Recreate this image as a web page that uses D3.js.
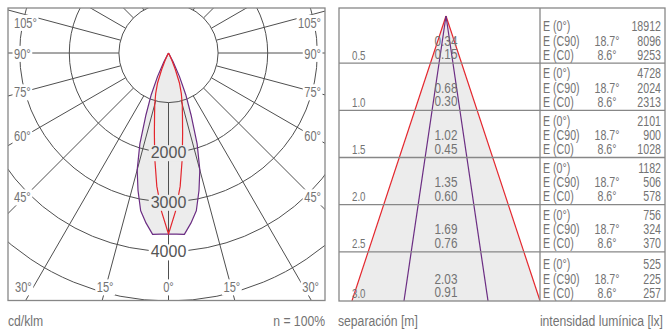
<!DOCTYPE html>
<html>
<head>
<meta charset="utf-8">
<script src="https://cdn.jsdelivr.net/npm/d3@7/dist/d3.min.js"></script>
<style>
  body { margin: 0; background: #fff; }
  text { font-family: "Liberation Sans", Arial, sans-serif; fill: #737373; }
</style>
</head>
<body>
<svg id="chart" width="666" height="329"></svg>
<script>
// ---------------------------------------------------------------------------
// Datos
// ---------------------------------------------------------------------------
const gridIntensities = [1000, 2000, 3000, 4000, 5000];
const gridLabelValues = [2000, 3000, 4000];
const angleTicks = [0, 15, 30, 45, 60, 75, 90, 105];

// curva polar (cd/klm) - angulo desde el nadir, simetrica
const curveAngles = [0, 2.5, 5, 7.5, 10, 12.5, 15, 17.5, 20, 22.5, 25, 27.5, 30];
const curveC90 = [3650, 3655, 3670, 3460, 3230, 2840, 2440, 1920, 1330, 910, 520, 200, 0];
const curveC0 = [3650, 3200, 2700, 2130, 1640, 1300, 1070, 860, 650, 360, 160, 40, 0];

// tabla de iluminancias
const depths = [0.5, 1.0, 1.5, 2.0, 2.5, 3.0];
const diamC90 = [0.34, 0.68, 1.02, 1.35, 1.69, 2.03];
const diamC0 = [0.15, 0.30, 0.45, 0.60, 0.76, 0.91];
const luxE0 = [18912, 4728, 2101, 1182, 756, 525];
const luxC90 = [8096, 2024, 900, 506, 324, 225];
const luxC0 = [9253, 2313, 1028, 578, 370, 257];
const halfAngleC90 = 18.7;
const halfAngleC0 = 8.6;

// ---------------------------------------------------------------------------
// Estilos
// ---------------------------------------------------------------------------
const GRID = '#4f4f4f';
const FRAME = '#878787';
const FILL = '#ececec';
const RED = '#e4262d';
const PURPLE = '#6b2d83';

const svg = d3.select('#chart');
const defs = svg.append('defs');
const rad = d => d * Math.PI / 180;

// texto estrechado horizontalmente (no hay fuente condensada instalada)
function narrowText(parent, x, y, txt, size, squeeze, anchor, bg) {
    const g = parent.append('g')
        .attr('transform', `translate(${x},${y}) scale(${squeeze},1)`);
    const rect = bg ? g.append('rect').attr('fill', bg) : null;
    const t = g.append('text')
        .attr('text-anchor', anchor || 'start')
        .style('font-size', size + 'px')
        .text(txt);
    if (rect) {
        const b = t.node().getBBox();
        rect.attr('x', b.x - 2).attr('y', b.y + 1)
            .attr('width', b.width + 4).attr('height', b.height - 1);
    }
    return t;
}

// ===========================================================================
// Diagrama polar
// ===========================================================================
const polar = { left: 8, top: 8, right: 325, bottom: 300.5 };
const cx = 168.5, cy = 53;
const r = d3.scaleLinear().domain([0, 5000]).range([0, 248]);
const polarXY = (deg, val) => [cx + r(val) * Math.sin(rad(deg)), cy + r(val) * Math.cos(rad(deg))];

defs.append('clipPath').attr('id', 'clip-polar')
    .append('rect')
    .attr('x', polar.left).attr('y', polar.top)
    .attr('width', polar.right - polar.left)
    .attr('height', polar.bottom - polar.top);

const gp = svg.append('g').attr('clip-path', 'url(#clip-polar)');

function curvePoints(values) {
    const right = curveAngles.map((a, i) => [a, values[i]]);
    const left = curveAngles.map((a, i) => [-a, values[i]]);
    return right.slice().reverse().concat(left.slice(1));
}

const polarLine = d3.line()
    .x(d => polarXY(d[0], d[1])[0])
    .y(d => polarXY(d[0], d[1])[1]);

// relleno
gp.append('path')
    .datum(curvePoints(curveC90))
    .attr('d', polarLine)
    .attr('fill', FILL);

// circulos
gp.selectAll('.grid-circle')
    .data(gridIntensities)
    .join('circle')
    .attr('class', 'grid-circle')
    .attr('cx', cx).attr('cy', cy)
    .attr('r', d => r(d))
    .attr('fill', 'none')
    .attr('stroke', GRID)
    .attr('stroke-width', 1);

// radios cada 15 grados
gp.selectAll('.grid-ray')
    .data(d3.range(-165, 166, 15))
    .join('line')
    .attr('class', 'grid-ray')
    .attr('x1', a => polarXY(a, 1000)[0])
    .attr('y1', a => polarXY(a, 1000)[1])
    .attr('x2', a => polarXY(a, 9000)[0])
    .attr('y2', a => polarXY(a, 9000)[1])
    .attr('stroke', GRID)
    .attr('stroke-width', 1);

// curvas
[[curveC90, PURPLE], [curveC0, RED]].forEach(([vals, col]) => {
    gp.append('path')
        .datum(curvePoints(vals))
        .attr('d', polarLine)
        .attr('fill', 'none')
        .attr('stroke', col)
        .attr('stroke-width', 1.2)
        .attr('stroke-linejoin', 'round');
});

// etiquetas de intensidad
gridLabelValues.forEach(v => {
    const bg = v < curveC90[0] ? FILL : '#fff';
    narrowText(gp, cx, cy + r(v) + 6, String(v), 16, 1, 'middle', bg)
        .style('fill', '#555');
});

// etiquetas de angulo
angleTicks.forEach(a => {
    [-1, 1].forEach(side => {
        if (a === 0 && side === 1) return;
        let x, y, anchor;
        if (a === 0) {
            x = cx; y = 292; anchor = 'middle';
        } else if (a === 15) {
            const rayX = cx + side * (288 - cy) * Math.tan(rad(a));
            x = rayX - side * 8; y = 292; anchor = side < 0 ? 'end' : 'start';
        } else if (a === 30) {
            x = side < 0 ? 15 : 319; y = 292; anchor = side < 0 ? 'start' : 'end';
        } else {
            const yc = Math.max(22, cy + (cx - 25) / Math.tan(rad(a)));
            x = side < 0 ? 14 : 321; y = yc + 5.5; anchor = side < 0 ? 'start' : 'end';
        }
        narrowText(gp, x, y, a + '°', 15, 0.74, anchor, '#fff');
    });
});

svg.append('rect')
    .attr('x', polar.left).attr('y', polar.top)
    .attr('width', polar.right - polar.left)
    .attr('height', polar.bottom - polar.top)
    .attr('fill', 'none')
    .attr('stroke', FRAME)
    .attr('stroke-width', 1.3);

// ===========================================================================
// Tabla de conos
// ===========================================================================
const tbl = { left: 339, right: 665, top: 8, bottom: 301, split: 540 };
const yDepth = d3.scaleLinear().domain([0, 3]).range([16, 299]);
const apexX = 446;
const xSpread = d3.scaleLinear().domain([-1, 1]).range([apexX - 92, apexX + 92]);
const dEnd = yDepth.invert(tbl.bottom);

defs.append('clipPath').attr('id', 'clip-cone')
    .append('rect')
    .attr('x', tbl.left).attr('y', tbl.top)
    .attr('width', tbl.split - tbl.left)
    .attr('height', tbl.bottom - tbl.top);

const gc = svg.append('g').attr('clip-path', 'url(#clip-cone)');

const wideEnd = dEnd * Math.tan(rad(halfAngleC90));
const narrowEnd = dEnd * Math.tan(rad(halfAngleC0));

gc.append('path')
    .attr('d', d3.line()([
        [xSpread(0), yDepth(0)],
        [xSpread(wideEnd), yDepth(dEnd)],
        [xSpread(-wideEnd), yDepth(dEnd)]
    ]) + 'Z')
    .attr('fill', FILL);

// lineas de filas
svg.selectAll('.row-line')
    .data(depths.slice(0, -1))
    .join('line')
    .attr('class', 'row-line')
    .attr('x1', tbl.left).attr('x2', tbl.right)
    .attr('y1', d => yDepth(d)).attr('y2', d => yDepth(d))
    .attr('stroke', FRAME)
    .attr('stroke-width', 1.3);

svg.append('line')
    .attr('x1', tbl.split).attr('x2', tbl.split)
    .attr('y1', tbl.top).attr('y2', tbl.bottom)
    .attr('stroke', FRAME)
    .attr('stroke-width', 1.3);

// textos de filas
const fmt1 = d3.format('.1f');
const fmt2 = d3.format('.2f');

depths.forEach((d, i) => {
    const rowBottom = i < depths.length - 1 ? yDepth(d) : tbl.bottom;

    narrowText(svg, 352, rowBottom - 3.5, fmt1(d), 12.5, 0.78);
    narrowText(svg, apexX, rowBottom - 17.5, fmt2(diamC90[i]), 14, 0.84, 'middle');
    narrowText(svg, apexX, rowBottom - 4, fmt2(diamC0[i]), 14, 0.84, 'middle');

    const lines = [
        { label: 'E (0°)', angle: '', value: luxE0[i], dy: -32 },
        { label: 'E (C90)', angle: halfAngleC90 + '°', value: luxC90[i], dy: -17.5 },
        { label: 'E (C0)', angle: halfAngleC0 + '°', value: luxC0[i], dy: -3.5 }
    ];
    lines.forEach(l => {
        narrowText(svg, 543, rowBottom + l.dy, l.label, 14, 0.76);
        if (l.angle) narrowText(svg, 607, rowBottom + l.dy, l.angle, 14, 0.76, 'middle');
        narrowText(svg, 661, rowBottom + l.dy, String(l.value), 14, 0.76, 'end');
    });
});

// lineas del cono (encima del texto)
[[wideEnd, RED], [narrowEnd, PURPLE]].forEach(([w, col]) => {
    [-1, 1].forEach(s => {
        gc.append('line')
            .attr('x1', xSpread(0)).attr('y1', yDepth(0))
            .attr('x2', xSpread(s * w)).attr('y2', yDepth(dEnd))
            .attr('stroke', col)
            .attr('stroke-width', 1.2);
    });
});

svg.append('rect')
    .attr('x', tbl.left).attr('y', tbl.top)
    .attr('width', tbl.right - tbl.left)
    .attr('height', tbl.bottom - tbl.top)
    .attr('fill', 'none')
    .attr('stroke', FRAME)
    .attr('stroke-width', 1.3);

// ---------------------------------------------------------------------------
// Pies
// ---------------------------------------------------------------------------
const captions = [
    { x: 8, anchor: 'start', text: 'cd/klm' },
    { x: 325, anchor: 'end', text: 'n = 100%' },
    { x: 338, anchor: 'start', text: 'separación [m]' },
    { x: 663, anchor: 'end', text: 'intensidad lumínica [lx]' }
];
captions.forEach(c => narrowText(svg, c.x, 326, c.text, 14, 0.87, c.anchor));
</script>
</body>
</html>
